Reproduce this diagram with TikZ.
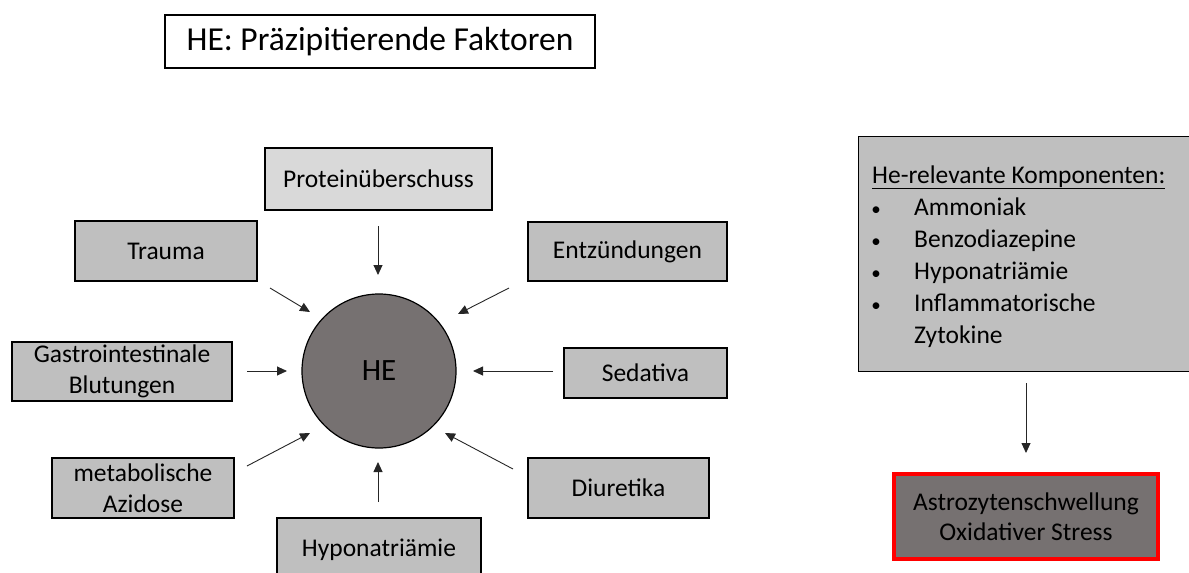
\documentclass[tikz,border=0pt]{standalone}
\usepackage{fontspec}
\setmainfont{Carlito}
\usetikzlibrary{arrows.meta,calc}
\definecolor{boxgray}{HTML}{BFBFBF}
\definecolor{boxlight}{HTML}{D9D9D9}
\definecolor{darkfill}{HTML}{767171}
\definecolor{redline}{HTML}{FF0000}
\newcommand{\blt}{\makebox[42pt][l]{\makebox[8pt][c]{\fontsize{19}{19}\selectfont•}}}
\begin{document}
\begin{tikzpicture}[x=1pt,y=-1pt,
  fbox/.style={draw=black, line width=1.2pt, fill=boxgray, align=center, inner sep=0pt,
    font=\fontsize{25.5}{31}\selectfont},
  arr/.style={-{Triangle[length=10pt,width=9pt]}, line width=0.9pt, draw=black!85}]
\useasboundingbox (0,0) rectangle (1189,573);
\clip (0,0) rectangle (1189,573);

% title
\node[fbox, fill=white, minimum width=430pt, minimum height=53pt,
  font=\fontsize{33.5}{38}\selectfont] (title) at (380,41.5) {HE: Präzipitierende Faktoren};

% central circle
\node[circle, draw=black, line width=1.2pt, fill=darkfill, minimum size=154pt, inner sep=0pt,
  font=\fontsize{31}{36}\selectfont] (he) at (379,371) {HE};

% factor boxes
\node[fbox, fill=boxlight, minimum width=227pt, minimum height=62pt] (protein) at (378.5,179) {Proteinüberschuss};
\node[fbox, minimum width=182pt, minimum height=60pt] (trauma) at (166,251) {Trauma};
\node[fbox, minimum width=199pt, minimum height=59pt] (entz) at (627.5,251.5) {Entzündungen};
\node[fbox, minimum width=220pt, minimum height=59pt] (gastro) at (122,371.5) {Gastrointestinale\\Blutungen};
\node[fbox, minimum width=163pt, minimum height=50pt] (sedativa) at (645.5,373) {Sedativa};
\node[fbox, minimum width=182pt, minimum height=60pt] (metab) at (143,488) {metabolische\\Azidose};
\node[fbox, minimum width=181pt, minimum height=60pt] (diur) at (618.5,488) {Diuretika};
\node[fbox, minimum width=204pt, minimum height=64pt] (hypo) at (379,550) {Hyponatriämie};

% arrow end points
\coordinate (p1) at (378,226);  \coordinate (q1) at (378,275);
\coordinate (p2) at (270,288);  \coordinate (q2) at (310,312);
\coordinate (p3) at (509,288);  \coordinate (q3) at (458,314);
\coordinate (p4) at (247,371);  \coordinate (q4) at (287,371);
\coordinate (p5) at (553,371);  \coordinate (q5) at (473,371);
\coordinate (p6) at (247,466);  \coordinate (q6) at (310,433);
\coordinate (p7) at (513,469);  \coordinate (q7) at (445,433);
\coordinate (p8) at (378,502);  \coordinate (q8) at (378,462);
\coordinate (p9) at (1026,383); \coordinate (q9) at (1026,453);

\draw[arr] (p1) -- (q1);
\draw[arr] (p2) -- (q2);
\draw[arr] (p3) -- (q3);
\draw[arr] (p4) -- (q4);
\draw[arr] (p5) -- (q5);
\draw[arr] (p6) -- (q6);
\draw[arr] (p7) -- (q7);
\draw[arr] (p8) -- (q8);

% right side
\node[fbox, anchor=north west, minimum width=345pt, minimum height=235pt] (comp) at (858,136) {};
\node[anchor=base west, inner sep=0pt, font=\fontsize{25.5}{32}\selectfont] (complist) at (872,183)
  {\begin{tabular}[t]{@{}l@{}}
   \underline{He-relevante Komponenten:}\\
   \blt Ammoniak\\
   \blt Benzodiazepine\\
   \blt Hyponatriämie\\
   \blt Inflammatorische\\
   \hspace*{42pt}Zytokine
   \end{tabular}};

\node[fbox, draw=redline, line width=4pt, fill=darkfill, minimum width=264pt, minimum height=85pt,
  font=\fontsize{25.5}{30}\selectfont] (astro) at (1026,516.5) {Astrozytenschwellung\\Oxidativer Stress};

\draw[arr] (p9) -- (q9);
\end{tikzpicture}
\end{document}
